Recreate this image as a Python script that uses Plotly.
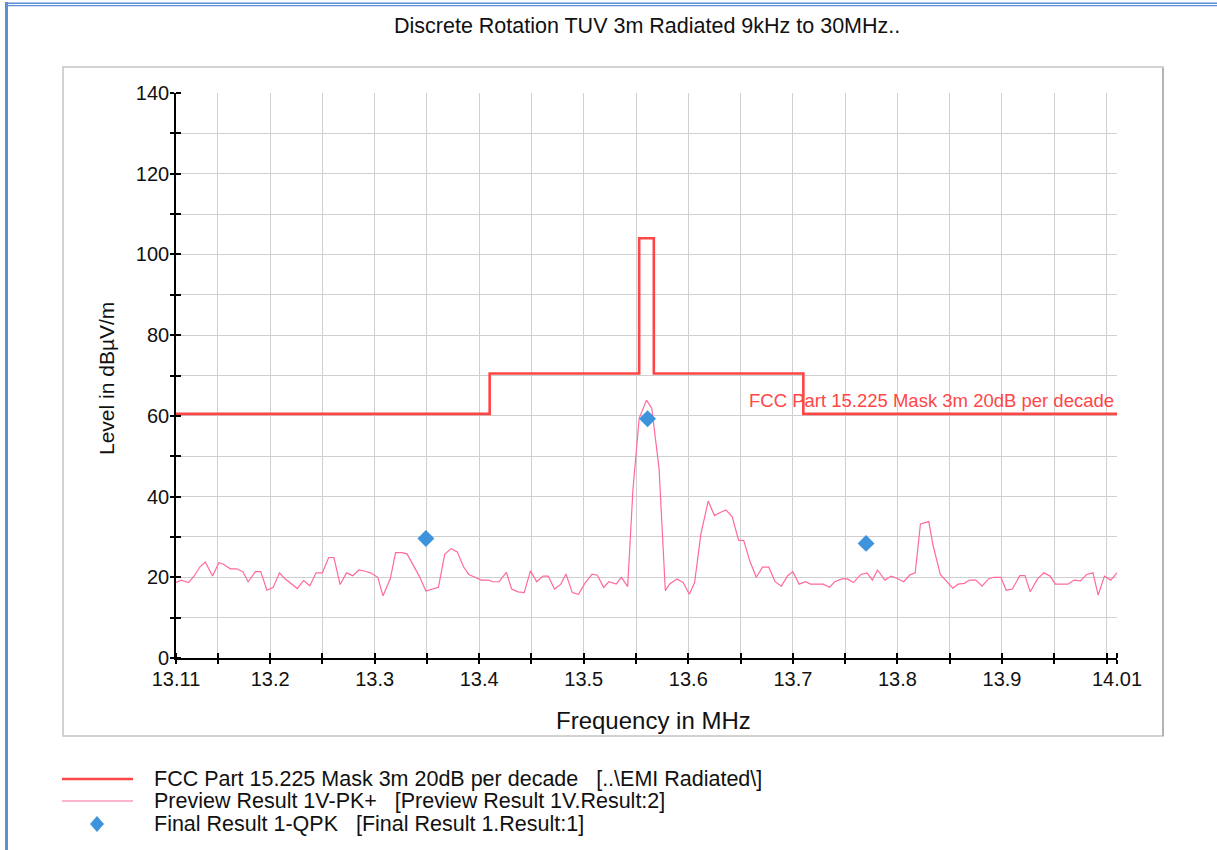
import plotly.graph_objects as go

# ---------------- data ----------------
mask_freq = [13.110, 13.410, 13.553, 13.567, 13.710, 14.010]
mask_level = [60.5, 70.5, 104.0, 70.5, 60.5, 60.5]

preview_freq = [
    13.110, 13.115, 13.122, 13.127, 13.133, 13.138, 13.145, 13.151, 13.155, 13.162,
    13.168, 13.174, 13.179, 13.186, 13.191, 13.197, 13.203, 13.209, 13.214, 13.221,
    13.226, 13.232, 13.238, 13.244, 13.250, 13.256, 13.261, 13.267, 13.273, 13.279,
    13.285, 13.291, 13.296, 13.303, 13.308, 13.315, 13.320, 13.326, 13.331, 13.343,
    13.349, 13.361, 13.367, 13.373, 13.379, 13.385, 13.390, 13.396, 13.402, 13.409,
    13.413, 13.419, 13.426, 13.431, 13.437, 13.443, 13.449, 13.455, 13.461, 13.466,
    13.472, 13.478, 13.483, 13.489, 13.495, 13.501, 13.508, 13.513, 13.519, 13.524,
    13.531, 13.536, 13.542, 13.547, 13.553, 13.560, 13.565, 13.572, 13.578, 13.582,
    13.589, 13.595, 13.601, 13.606, 13.612, 13.619, 13.625, 13.630, 13.636, 13.642,
    13.648, 13.653, 13.659, 13.665, 13.671, 13.677, 13.683, 13.689, 13.695, 13.700,
    13.706, 13.712, 13.717, 13.723, 13.729, 13.735, 13.740, 13.747, 13.752, 13.758,
    13.765, 13.771, 13.776, 13.781, 13.788, 13.794, 13.800, 13.806, 13.812, 13.817,
    13.822, 13.830, 13.834, 13.841, 13.847, 13.853, 13.858, 13.864, 13.869, 13.875,
    13.881, 13.887, 13.892, 13.899, 13.904, 13.910, 13.917, 13.922, 13.927, 13.934,
    13.940, 13.946, 13.951, 13.957, 13.963, 13.969, 13.975, 13.981, 13.987, 13.992,
    13.998, 14.004, 14.010,
]
preview_level = [
    18.7, 19.3, 18.7, 20.2, 22.6, 23.8, 20.3, 23.6, 23.3, 22.1,
    22.1, 21.4, 18.9, 21.4, 21.4, 16.8, 17.5, 21.1, 19.7, 18.1,
    17.2, 19.2, 17.9, 21.1, 21.1, 24.9, 24.9, 18.2, 21.1, 20.4,
    21.8, 21.5, 21.1, 20.0, 15.4, 19.7, 26.1, 26.1, 25.8, 20.1,
    16.6, 17.5, 25.7, 27.1, 26.3, 22.6, 20.7, 20.0, 19.3, 19.3,
    18.9, 18.9, 21.2, 17.1, 16.4, 16.2, 21.6, 18.9, 20.3, 20.3,
    17.1, 18.3, 20.8, 16.2, 15.8, 18.5, 20.8, 20.5, 17.5, 18.9,
    18.3, 20.0, 17.7, 41.6, 59.4, 63.9, 61.9, 47.0, 16.7, 18.3,
    19.6, 18.7, 15.8, 18.7, 30.7, 38.9, 35.3, 36.0, 36.7, 35.0,
    29.2, 29.1, 23.9, 20.0, 22.5, 22.5, 18.9, 17.8, 20.4, 21.4,
    18.3, 18.9, 18.3, 18.3, 18.3, 17.5, 18.9, 19.6, 19.6, 18.7,
    20.7, 21.1, 19.3, 21.8, 19.3, 20.3, 19.7, 18.9, 20.6, 21.1,
    33.2, 33.8, 28.0, 20.7, 18.9, 17.3, 18.3, 18.5, 19.3, 19.3,
    17.8, 19.6, 20.0, 20.0, 16.8, 17.1, 20.4, 20.4, 16.4, 19.6,
    21.1, 20.3, 18.3, 18.3, 18.3, 19.3, 19.1, 20.7, 21.1, 15.6,
    20.3, 19.3, 21.1,
]

final_freq = [13.349, 13.561, 13.770]
final_level = [29.6, 59.3, 28.4]

x_tickvals = [13.11, 13.15, 13.2, 13.25, 13.3, 13.35, 13.4, 13.45, 13.5, 13.55,
              13.6, 13.65, 13.7, 13.75, 13.8, 13.85, 13.9, 13.95, 14.0, 14.01]
x_ticktext = ["13.11", "", "13.2", "", "13.3", "", "13.4", "", "13.5", "",
              "13.6", "", "13.7", "", "13.8", "", "13.9", "", "", "14.01"]
y_tickvals = [0, 10, 20, 30, 40, 50, 60, 70, 80, 90, 100, 110, 120, 130, 140]
y_ticktext = ["0", "", "20", "", "40", "", "60", "", "80", "", "100", "", "120", "", "140"]

title_text = "Discrete Rotation TUV 3m Radiated 9kHz to 30MHz.."
x_title = "Frequency in MHz"
y_title = "Level in dBµV/m"
mask_label = "FCC Part 15.225 Mask 3m 20dB per decade"
legend_texts = [
    "FCC Part 15.225 Mask 3m 20dB per decade\u00a0\u00a0\u00a0[..\\EMI Radiated\\]",
    "Preview Result 1V-PK+\u00a0\u00a0\u00a0[Preview Result 1V.Result:2]",
    "Final Result 1-QPK\u00a0\u00a0\u00a0[Final Result 1.Result:1]",
]

# ---------------- styling ----------------
W, H = 1217, 850
L, R, T, B = 176, 1117, 93, 658   # plot area in pixels
FONT = "Liberation Sans, Arial, sans-serif"
MASK_C = "#ff4646"
PREV_C = "#ff6a9a"
FINAL_C = "#3d93dc"
GRID_C = "#cfcfcf"


def px(x):
    return (x - L) / (R - L)


def py(y):
    return (B - y) / (B - T)


fig = go.Figure()
fig.add_trace(go.Scatter(x=mask_freq, y=mask_level, mode="lines", line_shape="hv",
                         line=dict(color=MASK_C, width=2.6), showlegend=False,
                         hoverinfo="skip"))
fig.add_trace(go.Scatter(x=preview_freq, y=preview_level, mode="lines",
                         line=dict(color=PREV_C, width=1.2), showlegend=False))
fig.add_trace(go.Scatter(x=final_freq, y=final_level, mode="markers",
                         marker=dict(symbol="diamond", size=13, color=FINAL_C),
                         showlegend=False))

shapes = []
# outer frame (gray box)
shapes.append(dict(type="rect", xref="paper", yref="paper",
                   x0=px(63), x1=px(1163), y0=py(736), y1=py(67),
                   line=dict(color="#c4c4c4", width=1.5), layer="below"))
shapes.append(dict(type="line", xref="paper", yref="paper",
                   x0=px(1163), x1=px(1163), y0=py(736), y1=py(68),
                   line=dict(color="#a8a8a8", width=1.5)))
# blue window border
shapes.append(dict(type="line", xref="paper", yref="paper",
                   x0=px(6.5), x1=px(6.5), y0=py(850), y1=py(2),
                   line=dict(color="#5b8fd6", width=3)))
shapes.append(dict(type="line", xref="paper", yref="paper",
                   x0=px(5), x1=px(1217), y0=py(3.2), y1=py(3.2),
                   line=dict(color="#5b8fd6", width=1.6)))
shapes.append(dict(type="line", xref="paper", yref="paper",
                   x0=px(5), x1=px(1217), y0=py(5.6), y1=py(5.6),
                   line=dict(color="#5b8fd6", width=1.4)))
# legend symbols
rows_y = [779, 801, 824]
shapes.append(dict(type="line", xref="paper", yref="paper",
                   x0=px(62), x1=px(133), y0=py(rows_y[0]), y1=py(rows_y[0]),
                   line=dict(color=MASK_C, width=2.6)))
shapes.append(dict(type="line", xref="paper", yref="paper",
                   x0=px(62), x1=px(133), y0=py(rows_y[1]), y1=py(rows_y[1]),
                   line=dict(color=PREV_C, width=1.2)))
cx, cy = 97, rows_y[2]
shapes.append(dict(type="path", xref="paper", yref="paper",
                   path=f"M {px(cx-7)} {py(cy)} L {px(cx)} {py(cy-8)} L {px(cx+7)} {py(cy)} L {px(cx)} {py(cy+8)} Z",
                   fillcolor=FINAL_C, line=dict(color=FINAL_C, width=0)))

annotations = []
annotations.append(dict(text=title_text, xref="paper", yref="paper",
                        x=px(647), y=py(26), xanchor="center", yanchor="middle",
                        showarrow=False, font=dict(family=FONT, size=21.5, color="#111")))
annotations.append(dict(text=x_title, xref="paper", yref="paper",
                        x=px(653.5), y=py(720), xanchor="center", yanchor="middle",
                        showarrow=False, font=dict(family=FONT, size=24, color="#111")))
annotations.append(dict(text=y_title, xref="paper", yref="paper",
                        x=px(106), y=py(379), xanchor="center", yanchor="middle",
                        textangle=-90, showarrow=False,
                        font=dict(family=FONT, size=21, color="#111")))
annotations.append(dict(text=mask_label, xref="x", yref="y",
                        x=mask_freq[-1], y=mask_level[-1], xanchor="right", yanchor="bottom",
                        xshift=-1, yshift=1, showarrow=False,
                        font=dict(family=FONT, size=18.5, color=MASK_C)))
for txt, ry in zip(legend_texts, rows_y):
    annotations.append(dict(text=txt, xref="paper", yref="paper",
                            x=px(152), y=py(ry), xanchor="left", yanchor="middle",
                            showarrow=False, font=dict(family=FONT, size=21.5, color="#111")))

fig.update_layout(
    width=W, height=H,
    margin=dict(l=L, r=W - R, t=T, b=H - B, pad=0),
    paper_bgcolor="white", plot_bgcolor="white",
    font=dict(family=FONT, size=20, color="#111"),
    shapes=shapes, annotations=annotations,
    showlegend=False,
)
EPS_X = 1e-6
EPS_Y = 1e-4
fig.update_xaxes(range=[13.11, 14.01], tickmode="array", tickvals=x_tickvals,
                 ticktext=x_ticktext, showgrid=True, gridcolor=GRID_C, gridwidth=1,
                 showline=True, linecolor="black", linewidth=1.6,
                 ticks="outside", ticklen=4, tickcolor="black", tickwidth=1.5,
                 ticklabelstandoff=-2,
                 minor=dict(tickmode="array", tickvals=[v + EPS_X for v in x_tickvals],
                            ticks="inside", ticklen=5, tickcolor="black", tickwidth=1.5,
                            showgrid=False),
                 zeroline=False, tickfont=dict(family=FONT, size=20, color="#111"))
fig.update_yaxes(range=[0, 140], tickmode="array", tickvals=y_tickvals,
                 ticktext=y_ticktext, showgrid=True, gridcolor=GRID_C, gridwidth=1,
                 showline=True, linecolor="black", linewidth=1.6,
                 ticks="outside", ticklen=4, tickcolor="black", tickwidth=1.5,
                 ticklabelstandoff=-3,
                 minor=dict(tickmode="array", tickvals=[v + EPS_Y for v in y_tickvals],
                            ticks="inside", ticklen=5, tickcolor="black", tickwidth=1.5,
                            showgrid=False),
                 zeroline=False, tickfont=dict(family=FONT, size=20, color="#111"))

fig.write_html("out.html", config={"displayModeBar": False},
               post_script="document.body.style.margin='0px';document.body.style.overflow='hidden';")
